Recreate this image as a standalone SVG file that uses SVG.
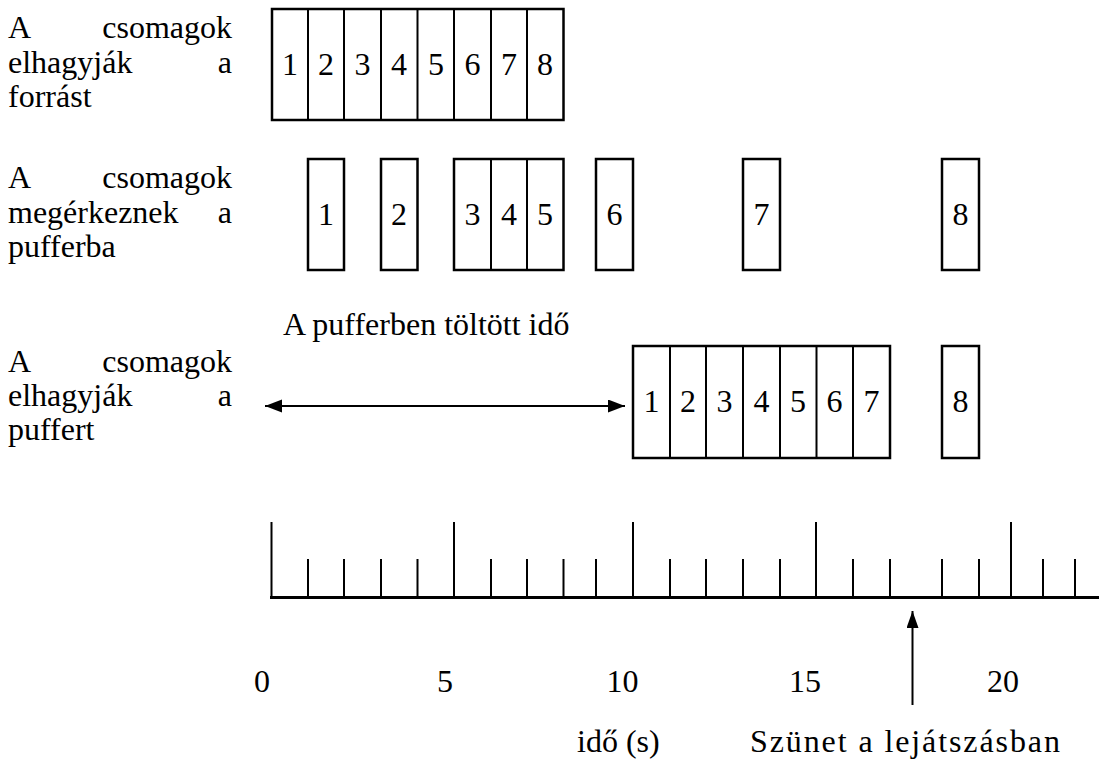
<svg xmlns="http://www.w3.org/2000/svg" width="1099" height="762" viewBox="0 0 1099 762">
  <style>
    text { font-family: "Liberation Serif", "Times New Roman", serif; font-size: 32px; fill: #000; }
    .num { text-anchor: middle; }
    .end { text-anchor: end; }
    .wide { letter-spacing: 1.9px; }
    .box { fill: none; stroke: #000; stroke-width: 2.5; }
    .div { stroke: #000; stroke-width: 2; }
    .tick { stroke: #000; stroke-width: 2; }
    .axis { stroke: #000; stroke-width: 3; }
    .conn { stroke: #000; stroke-width: 2; fill: none; }
  </style>
  <defs>
    <marker id="head" markerUnits="userSpaceOnUse" markerWidth="18" markerHeight="14" refX="17" refY="6.5" orient="auto-start-reverse">
      <path d="M0,0 L17,6.5 L0,13 z" fill="#000"/>
    </marker>
    <marker id="headUp" markerUnits="userSpaceOnUse" markerWidth="18" markerHeight="14" refX="17" refY="6" orient="auto">
      <path d="M0,0 L17,6 L0,12 z" fill="#000"/>
    </marker>
  </defs>
  <rect width="1099" height="762" fill="#fff"/>

  <!-- row labels (justified lines) -->
  <g id="label-source">
    <text x="8" y="38">A</text><text class="end" x="232" y="38">csomagok</text>
    <text x="8" y="73">elhagyják</text><text class="end" x="232" y="73">a</text>
    <text x="8" y="107">forrást</text>
  </g>
  <g id="label-arrive">
    <text x="8" y="188">A</text><text class="end" x="232" y="188">csomagok</text>
    <text x="8" y="223">megérkeznek</text><text class="end" x="232" y="223">a</text>
    <text x="8" y="257">pufferba</text>
  </g>
  <g id="label-leave">
    <text x="8" y="372">A</text><text class="end" x="232" y="372">csomagok</text>
    <text x="8" y="406">elhagyják</text><text class="end" x="232" y="406">a</text>
    <text x="8" y="440">puffert</text>
  </g>

  <!-- packets leaving the source -->
  <g id="row-source">
    <rect class="box" x="272" y="9" width="291.5" height="111"/>
    <path class="div" d="M308,9V120M344,9V120M381,9V120M417.5,9V120M454,9V120M491,9V120M527,9V120"/>
    <text class="num" x="290" y="75">1</text>
    <text class="num" x="326" y="75">2</text>
    <text class="num" x="362.5" y="75">3</text>
    <text class="num" x="399" y="75">4</text>
    <text class="num" x="436" y="75">5</text>
    <text class="num" x="472.5" y="75">6</text>
    <text class="num" x="509" y="75">7</text>
    <text class="num" x="545" y="75">8</text>
  </g>

  <!-- packets arriving in the buffer -->
  <g id="row-arrive">
    <g id="arrive-1"><rect class="box" x="308" y="159" width="36" height="111"/><text class="num" x="326" y="225">1</text></g>
    <g id="arrive-2"><rect class="box" x="381" y="159" width="36.5" height="111"/><text class="num" x="399" y="225">2</text></g>
    <g id="arrive-3-5">
      <rect class="box" x="454" y="159" width="109.5" height="111"/>
      <path class="div" d="M491,159V270M527,159V270"/>
      <text class="num" x="472.5" y="225">3</text>
      <text class="num" x="509" y="225">4</text>
      <text class="num" x="545" y="225">5</text>
    </g>
    <g id="arrive-6"><rect class="box" x="596" y="159" width="37" height="111"/><text class="num" x="614.5" y="225">6</text></g>
    <g id="arrive-7"><rect class="box" x="743" y="159" width="37" height="111"/><text class="num" x="761.5" y="225">7</text></g>
    <g id="arrive-8"><rect class="box" x="942" y="159" width="37" height="111"/><text class="num" x="960.5" y="225">8</text></g>
  </g>

  <!-- packets leaving the buffer -->
  <g id="row-leave">
    <text x="283" y="335">A pufferben töltött idő</text>
    <g id="leave-1-7">
      <rect class="box" x="633" y="346" width="257" height="112"/>
      <path class="div" d="M670,346V458M706,346V458M743,346V458M780,346V458M816.5,346V458M853,346V458"/>
      <text class="num" x="651.5" y="412">1</text>
      <text class="num" x="688" y="412">2</text>
      <text class="num" x="724.5" y="412">3</text>
      <text class="num" x="761.5" y="412">4</text>
      <text class="num" x="798" y="412">5</text>
      <text class="num" x="834.5" y="412">6</text>
      <text class="num" x="871.5" y="412">7</text>
    </g>
    <g id="leave-8"><rect class="box" x="942" y="346" width="37" height="112"/><text class="num" x="960.5" y="412">8</text></g>
  </g>

  <!-- time axis -->
  <g id="axis">
    <path class="tick" d="M271.5,522V597M454,522V597M633,522V597M816,522V597M1011,522V597"/>
    <path class="tick" d="M308,559V597M344,559V597M381,559V597M417.5,559V597M491,559V597M527,559V597M563.5,559V597M596,559V597M670,559V597M706,559V597M743,559V597M780,559V597M853,559V597M890,559V597M942,559V597M979,559V597M1043,559V597M1075,559V597"/>
    <line class="axis" x1="270" y1="597.5" x2="1099" y2="597.5"/>
    <text class="num" x="262" y="692">0</text>
    <text class="num" x="445" y="692">5</text>
    <text class="num" x="622.5" y="692">10</text>
    <text class="num" x="805" y="692">15</text>
    <text class="num" x="1003" y="692">20</text>
    <text x="577" y="752">idő (s)</text>
    <text class="wide" x="750" y="752">Szünet a lejátszásban</text>
  </g>

  <!-- connectors -->
  <g id="connectors">
    <line class="conn" x1="265" y1="406" x2="625" y2="406" marker-start="url(#head)" marker-end="url(#head)"/>
    <line class="conn" x1="912.5" y1="705" x2="912.5" y2="611" marker-end="url(#headUp)"/>
  </g>
</svg>
